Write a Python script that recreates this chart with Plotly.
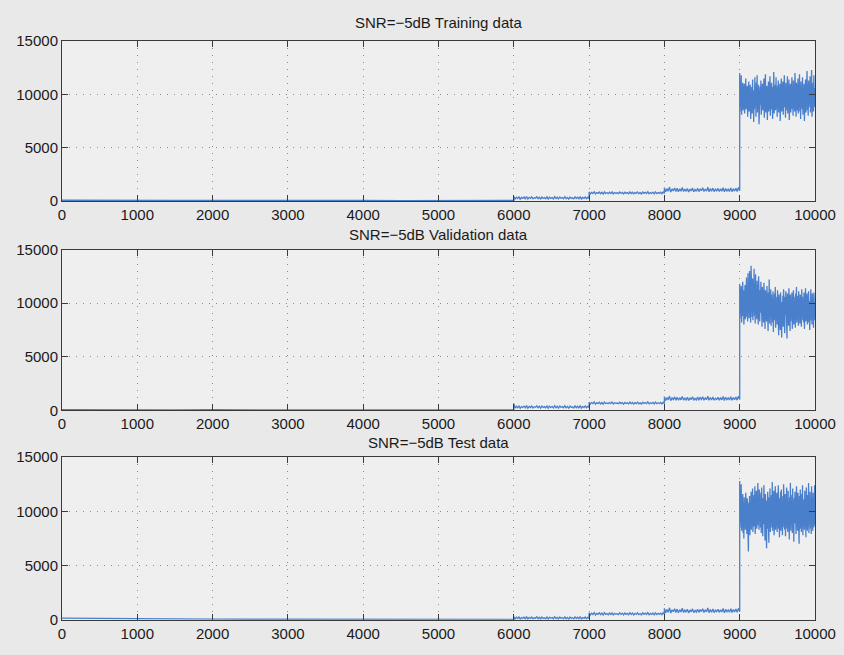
import numpy as np
import plotly.graph_objects as go

titles = ["SNR=\u22125dB Training data", "SNR=\u22125dB Validation data", "SNR=\u22125dB Test data"]
x_ticks = [0, 1000, 2000, 3000, 4000, 5000, 6000, 7000, 8000, 9000, 10000]
y_ticks = [0, 5000, 10000, 15000]
seg_bounds = [0, 6000, 7000, 8000, 9000, 10000]

# ---- Training ----
train_s0 = [60, 40, 55, 35, 50, 30, 45, 35, 40, 30, 45, 35, 40]
train_s6 = [400, 180, 350, 220, 380, 160, 320, 240, 360, 200, 410, 170, 330, 230, 370, 190, 300, 250, 390, 210,
            340, 180, 360, 230, 310, 200, 380, 170, 350, 240, 320, 190, 400, 220, 340, 180, 370, 250, 310, 200,
            390, 210, 330, 170, 360, 230, 300, 190, 380, 220, 350, 200, 410, 180, 320, 240, 370, 210, 340, 230]
train_s7 = [840, 660, 800, 690, 860, 650, 780, 710, 830, 670, 810, 640, 850, 700, 770, 680, 820, 690, 840, 660,
            790, 720, 760, 680, 830, 700, 800, 650, 820, 710, 780, 670, 850, 690, 810, 660, 790, 700, 840, 680,
            770, 650, 830, 710, 800, 690, 860, 670, 780, 700, 820, 660, 840, 690, 790, 710, 810, 670, 830, 700]
train_s8 = [1250, 850, 1150, 900, 1300, 830, 1120, 940, 1220, 870, 1180, 860, 1140, 910, 1260, 880, 1100, 900, 1170, 840,
            1110, 930, 1210, 860, 1080, 900, 1190, 870, 1140, 950, 1230, 880, 1120, 920, 1280, 860, 1150, 900, 1200, 870,
            1090, 940, 1170, 880, 1130, 910, 1240, 850, 1160, 930, 1100, 890, 1210, 870, 1140, 920, 1190, 880, 1250, 950]
train_s9 = [12000, 8400, 11300, 8900, 11800, 8100, 10600, 9000, 11100, 8500, 10400, 9300, 11000, 8200, 10700, 8900, 11500, 8600, 10200, 8800,
            10800, 7900, 10500, 9200, 11200, 8400, 10300, 8700, 10900, 7700, 10100, 9100, 10700, 8200, 11400, 8900, 10400, 7400, 10000, 8600,
            11600, 9000, 10500, 7900, 11100, 9100, 11800, 8300, 10300, 8800, 10900, 7200, 10200, 8600, 10700, 9000, 11300, 8100, 10400, 9200,
            11000, 8500, 10100, 8900, 11500, 7800, 10600, 9100, 11900, 8300, 10400, 8700, 10800, 7600, 10200, 9000, 11200, 8400, 10500, 8700,
            11700, 8000, 10300, 9300, 11100, 8600, 10700, 7700, 11400, 8900, 12100, 8200, 10600, 9100, 10900, 8500, 11600, 8800, 10300, 7900,
            10800, 9200, 11300, 8300, 10500, 8700, 11000, 7500, 10200, 8900, 11500, 8400, 10700, 9000, 11200, 8100, 10400, 8600, 11800, 8800,
            10600, 7800, 11100, 9100, 10300, 8500, 11700, 8200, 10900, 9000, 11400, 7600, 10500, 8800, 11000, 8300, 10200, 9200, 11600, 8600,
            10800, 8000, 11300, 8900, 10400, 8400, 12000, 8700, 10600, 7900, 11100, 9100, 10300, 8500, 11500, 8200, 10700, 8800, 11900, 8400,
            10500, 7700, 11200, 9000, 10800, 8600, 11600, 8100, 10400, 8900, 11000, 7500, 10300, 9100, 11400, 8300, 10600, 8700, 12200, 8500,
            10900, 8000, 11300, 8800, 10500, 9200, 11700, 8300, 10800, 8600, 12300, 7900, 10700, 9000, 11100, 8400, 11800, 8800, 10600, 9000]

# ---- Validation ----
val_s0 = [70, 40, 55, 35, 50, 30, 45, 35, 40, 30, 45, 35, 40]
val_s6 = [650, 210, 380, 250, 410, 190, 350, 270, 390, 230, 440, 200, 360, 260, 400, 220, 330, 280, 420, 240,
          370, 210, 390, 260, 340, 230, 410, 200, 380, 270, 350, 220, 430, 250, 370, 210, 400, 280, 340, 230,
          420, 240, 360, 200, 390, 260, 330, 220, 410, 250, 380, 230, 440, 210, 350, 270, 400, 240, 370, 260]
val_s7 = [760, 590, 720, 620, 780, 580, 700, 640, 750, 600, 730, 570, 770, 630, 690, 610, 740, 620, 760, 590,
          710, 650, 680, 610, 750, 630, 720, 580, 740, 640, 700, 600, 770, 620, 730, 590, 710, 630, 760, 610,
          690, 580, 750, 640, 720, 620, 780, 600, 700, 630, 740, 590, 760, 620, 710, 640, 730, 600, 750, 630]
val_s8 = [1280, 920, 1200, 970, 1330, 900, 1160, 1010, 1250, 940, 1230, 930, 1180, 980, 1300, 950, 1140, 970, 1220, 910,
          1170, 1000, 1260, 930, 1120, 970, 1230, 950, 1190, 1020, 1270, 940, 1160, 990, 1320, 930, 1200, 970, 1240, 940,
          1130, 1010, 1210, 950, 1180, 980, 1290, 920, 1220, 1000, 1150, 960, 1260, 940, 1190, 990, 1240, 950, 1310, 1020]
val_s9 = [11800, 8600, 11300, 9100, 11600, 8200, 10900, 9400, 12000, 8800, 11200, 8000, 10800, 9300, 11700, 8500, 11400, 9000, 12400, 8700,
          11000, 8300, 12800, 9100, 11500, 8600, 13000, 8900, 11300, 8200, 13500, 9200, 11900, 8700, 12300, 8400, 11600, 9300, 13200, 8800,
          11100, 8100, 12700, 9000, 11400, 8500, 12100, 9400, 11000, 8000, 12500, 8800, 11700, 8300, 11200, 9100, 12000, 8600, 10900, 7800,
          11500, 8900, 10700, 8200, 11900, 8700, 10500, 7600, 11200, 9000, 10800, 8300, 11600, 8600, 10600, 7400, 11000, 8900, 12200, 8100,
          10400, 8700, 11300, 7900, 10800, 9100, 10500, 8200, 11100, 7300, 10300, 8800, 10900, 8400, 11500, 7700, 10600, 9000, 10200, 8000,
          11200, 8500, 10400, 7000, 10800, 8700, 10300, 7500, 11000, 8900, 10500, 6800, 10100, 8400, 10700, 7800, 11300, 8600, 10200, 7200,
          10600, 8900, 11100, 8100, 10400, 6700, 10900, 8500, 10200, 7900, 11400, 8700, 10500, 7400, 10800, 8300, 10300, 8800, 11000, 7600,
          10400, 8600, 11200, 8000, 10600, 8800, 10100, 7700, 10900, 8400, 11500, 8200, 10300, 8900, 10700, 7900, 11100, 8500, 10400, 8100,
          10800, 8700, 10200, 7800, 11300, 8400, 10600, 8900, 10000, 8200, 11000, 7600, 10500, 8600, 11400, 8300, 10300, 8800, 10900, 8000,
          10500, 8600, 11100, 8200, 10200, 7500, 10800, 8900, 11300, 8400, 10400, 8000, 10900, 8700, 10300, 7700, 11000, 8500, 10600, 8400]

# ---- Test ----
test_s0 = [150, 110, 90, 70, 60, 45, 40, 35, 40, 30, 35, 30, 35]
test_s6 = [280, 70, 230, 110, 260, 50, 200, 130, 240, 90, 290, 60, 210, 120, 250, 80, 180, 140, 270, 100,
           220, 70, 240, 120, 190, 90, 260, 60, 230, 130, 200, 80, 280, 110, 220, 70, 250, 140, 190, 90,
           270, 100, 210, 60, 240, 120, 180, 80, 260, 110, 230, 90, 290, 70, 200, 130, 250, 100, 220, 120]
test_s7 = [640, 450, 600, 480, 660, 430, 580, 500, 630, 470, 610, 440, 650, 490, 570, 460, 620, 480, 640, 450,
           590, 510, 560, 470, 630, 490, 600, 440, 620, 500, 580, 460, 650, 480, 610, 450, 590, 490, 640, 470,
           570, 440, 630, 500, 600, 480, 660, 460, 580, 490, 620, 450, 640, 480, 590, 500, 610, 460, 630, 490]
test_s8 = [1050, 640, 950, 690, 1100, 620, 910, 740, 1010, 670, 980, 650, 930, 710, 1060, 670, 890, 700, 960, 630,
           900, 730, 1000, 660, 860, 700, 970, 680, 930, 750, 1020, 670, 910, 720, 1080, 650, 950, 700, 990, 660,
           880, 740, 960, 680, 920, 710, 1040, 640, 950, 730, 900, 690, 1010, 670, 940, 720, 980, 680, 1050, 750]
test_s9 = [12800, 8500, 11900, 9000, 12500, 8200, 11100, 9300, 11600, 8000, 10800, 7500, 11300, 8700, 10500, 8300, 11700, 8900, 10900, 7900,
           11200, 8600, 10400, 6300, 10800, 8400, 11400, 7800, 10600, 9100, 11800, 8300, 10700, 8800, 12100, 8100, 10500, 9000, 11500, 8600,
           12300, 7900, 10900, 9200, 11900, 8400, 11100, 8900, 12600, 8700, 11300, 8300, 12000, 9100, 10800, 8500, 11700, 8000, 12200, 8900,
           10700, 7700, 11200, 8800, 12400, 8200, 10900, 7300, 11600, 8600, 10600, 6600, 11000, 8400, 11800, 7900, 10400, 7100, 11300, 8700,
           12100, 8100, 10800, 8900, 11500, 8500, 12700, 8200, 11000, 8800, 11900, 7800, 10600, 8600, 12300, 8300, 11100, 9000, 11700, 8100,
           10900, 8700, 12400, 8400, 11200, 7600, 10700, 8900, 11800, 8200, 12000, 8600, 10800, 7800, 11400, 8500, 12500, 8800, 11000, 8300,
           11600, 7700, 10500, 8900, 12200, 8400, 11100, 8100, 11900, 8700, 10700, 7400, 11300, 8600, 12600, 8200, 10900, 8800, 11500, 8000,
           12100, 8500, 10600, 7200, 11200, 8900, 11800, 8300, 10800, 7900, 12300, 8600, 11000, 8200, 11700, 8800, 10500, 7000, 11400, 8400,
           12000, 8700, 10900, 8100, 11600, 8500, 12400, 7800, 11100, 8900, 10700, 8300, 11900, 8600, 11300, 7600, 12200, 8800, 10800, 8200,
           11500, 8600, 12600, 8000, 11000, 8900, 11800, 8400, 10600, 7900, 12300, 8700, 11200, 8200, 11700, 8500, 10900, 8800, 12400, 8600]

series = [
    [train_s0, train_s6, train_s7, train_s8, train_s9],
    [val_s0, val_s6, val_s7, val_s8, val_s9],
    [test_s0, test_s6, test_s7, test_s8, test_s9],
]


def build(segs):
    xs, ys = [], []
    for i, vals in enumerate(segs):
        xx = np.linspace(seg_bounds[i], seg_bounds[i + 1], len(vals))
        xs.extend(xx.tolist())
        ys.extend(vals)
    return xs, ys


W, H = 844, 655
fig = go.Figure()
line_color = "#4a7fcc"
font = dict(family="Liberation Sans, Arial, sans-serif", size=15, color="#1a1a1a")

# pixel frame positions (top, bottom) of each axes
frames = [(33, 197), (247, 412), (460, 627)]
title_y = [14, 232, 445]

for k, segs in enumerate(series):
    xs, ys = build(segs)
    ax = "" if k == 0 else str(k + 1)
    fig.add_trace(go.Scatter(x=xs, y=ys, mode="lines",
                             line=dict(color=line_color, width=1.3),
                             xaxis="x" + ax, yaxis="y" + ax, showlegend=False))
    top, bot = frames[k]
    common = dict(showline=True, linecolor="#3a3a3a", linewidth=1, mirror="ticks",
                  ticks="inside", ticklen=6, tickcolor="#3a3a3a",
                  showgrid=True, gridcolor="#8a8a8a", griddash="1px,6px", gridwidth=1,
                  zeroline=False, tickfont=font)
    fig.update_layout(**{
        "xaxis" + ax: dict(domain=[0, 1], range=[0, 10000], tickvals=x_ticks,
                           ticktext=[str(v) for v in x_ticks],
                           anchor="y" + ax, **common),
        "yaxis" + ax: dict(domain=[1 - bot / H, 1 - top / H], range=[0, 15000],
                           tickvals=y_ticks, ticktext=[str(v) for v in y_ticks],
                           anchor="x" + ax, **common),
    })
    fig.add_annotation(text=titles[k], xref="paper", yref="paper",
                       x=0.5, y=1 - title_y[k] / H, xanchor="center", yanchor="middle",
                       showarrow=False, font=font)

fig.update_layout(width=W, height=H, margin=dict(l=62, r=29, t=0, b=0),
                  paper_bgcolor="#e9e9e9", plot_bgcolor="#efefef",
                  font=font)
fig.write_html("out.html")
